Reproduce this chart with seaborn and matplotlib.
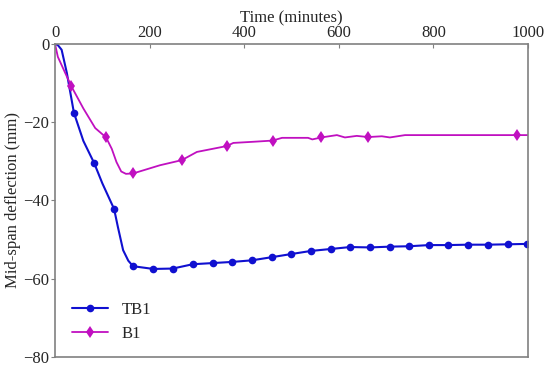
import numpy as np
import pandas as pd
import matplotlib
matplotlib.use("Agg")
import matplotlib.pyplot as plt
import seaborn as sns

# TB1 - pontos com marcador
tb1_mark_t = [40, 83, 125, 165, 208, 249, 291, 333, 375, 416, 458, 499,
              541, 583, 624, 666, 708, 749, 791, 831, 873, 915, 958, 998]
tb1_mark_y = [-17.6, -30.5, -42.2, -56.8, -57.5, -57.4, -56.3, -56.0, -55.7, -55.3, -54.5, -53.7,
              -52.9, -52.4, -51.9, -52.0, -51.8, -51.7, -51.4, -51.4, -51.3, -51.3, -51.2, -51.1]
# TB1 - pontos intermediarios da curva
tb1_curve_t = [0, 6, 14, 25, 60, 100, 133, 144, 155]
tb1_curve_y = [0, -0.3, -1.5, -7.4, -24.8, -35.6, -46.8, -52.7, -55.4]

# B1
b1_mark_t = [34, 108, 165, 268, 363, 460, 563, 662, 977]
b1_mark_y = [-10.7, -23.9, -33.1, -29.7, -26.1, -24.7, -23.9, -23.8, -23.3]
b1_curve_t = [0, 6, 60, 85, 120, 130, 140, 150, 222, 300, 342, 377, 420, 480, 535, 544,
              596, 613, 638, 691, 708, 740, 1000]
b1_curve_y = [0, -3.3, -16.5, -21.5, -26.8, -30.2, -32.6, -33.2, -31.0, -27.6, -26.6, -25.3,
              -25.0, -24.0, -24.0, -24.4, -23.3, -23.9, -23.5, -23.6, -23.9, -23.3, -23.3]


def montar(mark_t, mark_y, curve_t, curve_y):
    df = pd.DataFrame({
        "t": list(mark_t) + list(curve_t),
        "y": list(mark_y) + list(curve_y),
        "marca": [True] * len(mark_t) + [False] * len(curve_t),
    })
    df = df.sort_values("t").reset_index(drop=True)
    idx = list(df.index[df["marca"]])
    return df, idx


sns.set_theme(style="white")
plt.rcParams["font.family"] = ["Liberation Serif", "DejaVu Serif"]

fig = plt.figure(figsize=(5.5, 3.69), dpi=100)
ax = fig.add_axes([0.1, 0.0325, 0.86, 0.8485])

df_tb1, idx_tb1 = montar(tb1_mark_t, tb1_mark_y, tb1_curve_t, tb1_curve_y)
df_b1, idx_b1 = montar(b1_mark_t, b1_mark_y, b1_curve_t, b1_curve_y)

sns.lineplot(data=df_tb1, x="t", y="y", ax=ax, color="#1010d0", linewidth=1.5,
             marker="o", markersize=5.5, markevery=idx_tb1, markeredgewidth=0,
             label="TB1")
sns.lineplot(data=df_b1, x="t", y="y", ax=ax, color="#c010c0", linewidth=1.3,
             marker="d", markersize=6, markevery=idx_b1, markeredgewidth=0,
             label="B1")

ax.set_xlim(0, 1000)
ax.set_ylim(-80, 0)
ax.set_xticks([0, 200, 400, 600, 800, 1000])
ax.set_yticks([0, -20, -40, -60, -80])
ax.xaxis.tick_top()
ax.xaxis.set_label_position("top")
ax.set_xlabel("Time (minutes)", fontsize=12, labelpad=2)
ax.set_ylabel("Mid-span deflection (mm)", fontsize=12, labelpad=2)
ax.tick_params(axis="x", direction="in", length=3, width=0.8, color="#808080",
               labelsize=12, pad=2, top=True, bottom=False)
ax.tick_params(axis="y", direction="out", length=3, width=0.8, color="#808080",
               labelsize=12, pad=1, left=True)
for s in ax.spines.values():
    s.set_color("#808080")
    s.set_linewidth(1.2)

ax.legend(loc="lower left", frameon=False, fontsize=12, handlelength=2.2,
          borderaxespad=0.6, bbox_to_anchor=(0.0, -0.005))

fig.savefig("out.png", dpi=100)
